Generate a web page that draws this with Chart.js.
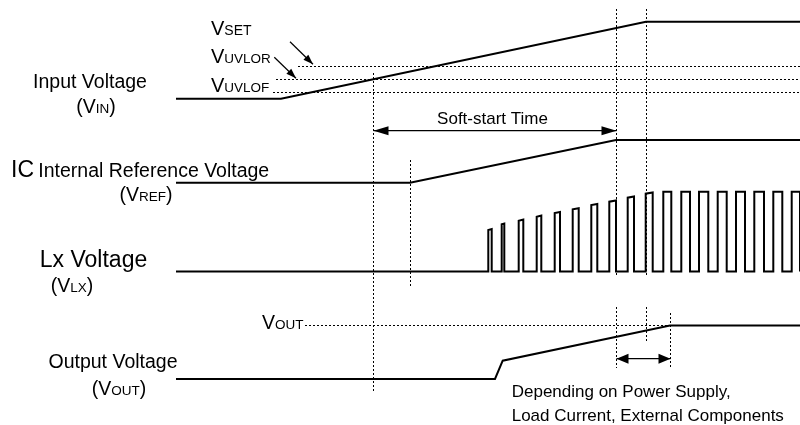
<!DOCTYPE html>
<html>
<head>
<meta charset="utf-8">
<script src="https://cdn.jsdelivr.net/npm/chart.js@4.4.0/dist/chart.umd.min.js"></script>
<style>
  html, body { margin: 0; padding: 0; background: #fff; }
  #wrap { width: 800px; height: 425px; }
</style>
</head>
<body>
<div id="wrap"><canvas id="timing" width="800" height="425"></canvas></div>
<script>
// ---- data (time along x, level above each row's baseline) ----
const vinTime = [176, 281, 646, 800];
const vinLevel = [0, 0, 77, 77];

const thresholdNames = ["SET", "UVLOR", "UVLOF"];
const thresholdLevel = [32.2, 19.2, 6.2];
const thresholdStart = [298, 276, 273];

const vrefTime = [176, 410, 616, 800];
const vrefLevel = [0, 0, 42.7, 42.7];

const lxRise = [488.3, 501.7, 518.7, 536.7, 554.7, 572.7, 591.3, 609.3, 627.7, 645.7, 663.3, 681.3, 699, 717.7, 736, 754.3, 773.3, 791.7];
const lxFall = [491.7, 504.3, 523.3, 541.3, 560, 578.7, 597.3, 616, 634, 652.7, 671.3, 690, 708.3, 726.7, 745, 764, 782.3, 800];
const lxTopStart = [41.5, 47.2, 50.8, 54.8, 58.5, 62.2, 66.5, 69.8, 73.8, 77.8, 79.8, 79.8, 79.8, 79.8, 79.8, 79.8, 79.8, 79.8];
const lxTopEnd = [42.5, 48, 52, 56, 59.5, 63.2, 67.5, 71, 75, 79, 79.8, 79.8, 79.8, 79.8, 79.8, 79.8, 79.8, 79.8];

const voutTime = [176, 495, 502.7, 670, 800];
const voutLevel = [0, 0, 18.3, 53.5, 53.5];
const voutRefStart = 305;

const markerTime = [373.5, 410.5, 616.5, 646.5, 670.5];

// ---- layout (positions on the page) ----
const rowBase = { vin: 98.7, vref: 182.7, lx: 271.5, vout: 379 };
const markerSpans = [
  [[73, 392]],
  [[160, 288]],
  [[9, 277], [307, 368]],
  [[9, 277], [307, 342]],
  [[313, 368]]
];
const softStartY = 130.7;
const settleY = 358.7;
const FONT = '"Liberation Sans", Arial, Helvetica, sans-serif';

function trace(times, levels, base) {
  return times.map((t, i) => ({ x: t, y: base - levels[i] }));
}

function lxPoints() {
  const pts = [{ x: 176, y: rowBase.lx }];
  lxRise.forEach((r, i) => {
    pts.push({ x: r, y: rowBase.lx });
    pts.push({ x: r, y: rowBase.lx - lxTopStart[i] });
    pts.push({ x: lxFall[i], y: rowBase.lx - lxTopEnd[i] });
    pts.push({ x: lxFall[i], y: rowBase.lx });
  });
  return pts;
}

const solid = { borderColor: "#000", borderWidth: 2, pointRadius: 0, showLine: true, tension: 0, borderJoinStyle: "miter", clip: false };
const dotted = { borderColor: "#000", borderWidth: 1, borderDash: [2, 2], pointRadius: 0, showLine: true, tension: 0, clip: false };
const thin = { borderColor: "#000", borderWidth: 1.2, pointRadius: 0, showLine: true, tension: 0, clip: false };

const datasets = [];

// threshold lines for VIN
thresholdLevel.forEach((lv, i) => {
  datasets.push({ ...dotted, data: [{ x: thresholdStart[i], y: rowBase.vin - lv }, { x: 800, y: rowBase.vin - lv }] });
});
// VOUT target level
datasets.push({ ...dotted, data: [{ x: voutRefStart, y: rowBase.vout - voutLevel[3] }, { x: voutTime[3], y: rowBase.vout - voutLevel[3] }] });

// vertical time markers
markerTime.forEach((t, i) => {
  const pts = [];
  markerSpans[i].forEach((s, k) => {
    if (k > 0) pts.push({ x: t, y: null });
    pts.push({ x: t, y: s[0] }, { x: t, y: s[1] });
  });
  datasets.push({ ...dotted, spanGaps: false, data: pts });
});

// signals
datasets.push({ ...solid, data: trace(vinTime, vinLevel, rowBase.vin) });
datasets.push({ ...solid, data: trace(vrefTime, vrefLevel, rowBase.vref) });
datasets.push({ ...solid, data: lxPoints() });
datasets.push({ ...solid, data: trace(voutTime, voutLevel, rowBase.vout) });

// arrows (shafts)
const arrows = [
  { from: [markerTime[0], softStartY], to: [markerTime[2], softStartY], both: true, len: 15, half: 4.5 },
  { from: [markerTime[2], settleY], to: [markerTime[4], settleY], both: true, len: 12, half: 5 },
  { from: [290, 41.7], to: [313, 64.3], both: false, len: 10, half: 3.5 },
  { from: [274.3, 57.3], to: [296, 78.3], both: false, len: 10, half: 3.5 }
];
arrows.forEach(a => {
  datasets.push({ ...thin, data: [{ x: a.from[0], y: a.from[1] }, { x: a.to[0], y: a.to[1] }] });
});

// text labels: [x, baseline, align, [[text, size], ...]]
const labels = [
  [90, 88.3, "center", [["Input Voltage", 19.5]]],
  [96, 113, "center", [["(V", 19.5], ["IN", 13.5], [")", 19.5]]],
  [11, 177.3, "left", [["IC", 23]]],
  [38.3, 177.3, "left", [["Internal Reference Voltage", 19.5]]],
  [146, 200.7, "center", [["(V", 19.5], ["REF", 13.5], [")", 19.5]]],
  [93.5, 267, "center", [["Lx Voltage", 23]]],
  [72, 292, "center", [["(V", 19.5], ["LX", 13.5], [")", 19.5]]],
  [113, 368.3, "center", [["Output Voltage", 19.5]]],
  [119, 395, "center", [["(V", 19.5], ["OUT", 13.5], [")", 19.5]]],
  [262, 329.3, "left", [["V", 19.5], ["OUT", 13.5]]],
  [211, 35, "left", [["V", 20], ["SET", 14]]],
  [211, 63.3, "left", [["V", 20], ["UVLOR", 13.5]]],
  [211, 91.7, "left", [["V", 20], ["UVLOF", 13.5]]],
  [492.5, 124, "center", [["Soft-start Time", 17]]],
  [511.7, 396.7, "left", [["Depending on Power Supply,", 17]]],
  [511.7, 420.7, "left", [["Load Current, External Components", 17]]]
];

function drawHead(ctx, tip, tail, len, half) {
  const dx = tip.x - tail.x, dy = tip.y - tail.y;
  const d = Math.hypot(dx, dy);
  const ux = dx / d, uy = dy / d;
  const bx = tip.x - ux * len, by = tip.y - uy * len;
  ctx.beginPath();
  ctx.moveTo(tip.x, tip.y);
  ctx.lineTo(bx - uy * half, by + ux * half);
  ctx.lineTo(bx + uy * half, by - ux * half);
  ctx.closePath();
  ctx.fill();
}

const annotate = {
  id: "annotate",
  afterDatasetsDraw(chart) {
    const ctx = chart.ctx;
    const xs = chart.scales.x, ys = chart.scales.y;
    const px = p => ({ x: xs.getPixelForValue(p[0]), y: ys.getPixelForValue(p[1]) });
    ctx.save();
    ctx.fillStyle = "#000";
    arrows.forEach(a => {
      const f = px(a.from), t = px(a.to);
      drawHead(ctx, t, f, a.len, a.half);
      if (a.both) drawHead(ctx, f, t, a.len, a.half);
    });
    ctx.textBaseline = "alphabetic";
    ctx.textAlign = "left";
    labels.forEach(([x, y, align, parts]) => {
      let w = 0;
      parts.forEach(([s, size]) => { ctx.font = size + "px " + FONT; w += ctx.measureText(s).width; });
      let cx = xs.getPixelForValue(x);
      if (align === "center") cx -= w / 2;
      if (align === "right") cx -= w;
      const cy = ys.getPixelForValue(y);
      parts.forEach(([s, size]) => {
        ctx.font = size + "px " + FONT;
        ctx.fillText(s, cx, cy);
        cx += ctx.measureText(s).width;
      });
    });
    ctx.restore();
  }
};

new Chart(document.getElementById("timing"), {
  type: "scatter",
  data: { datasets },
  options: {
    responsive: false,
    animation: false,
    events: [],
    layout: { padding: 0, autoPadding: false },
    plugins: { legend: { display: false }, tooltip: { enabled: false } },
    scales: {
      x: { type: "linear", min: 0, max: 800, display: false },
      y: { type: "linear", min: 0, max: 425, reverse: true, display: false }
    }
  },
  plugins: [annotate]
});
</script>
</body>
</html>
